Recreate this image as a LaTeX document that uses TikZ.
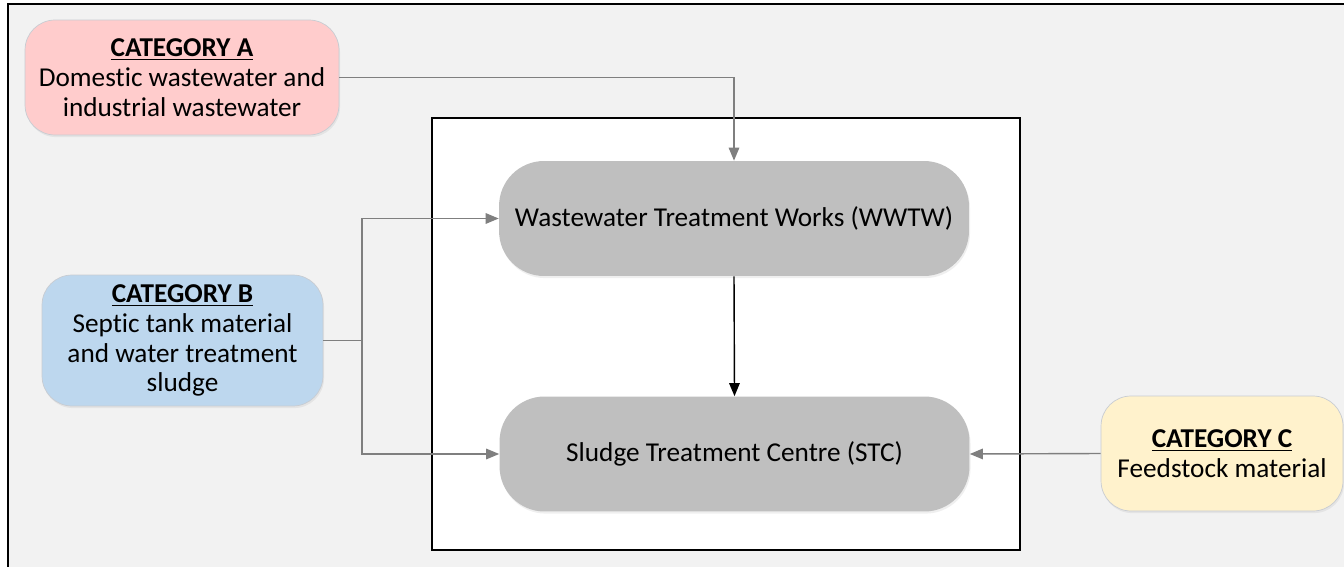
\documentclass[tikz,border=0pt]{standalone}
\usepackage{fontspec}
\setmainfont[Ligatures=NoCommon]{Carlito}
\usepackage{tikz}
\usetikzlibrary{arrows.meta}
\usetikzlibrary{shadows}
\definecolor{bgGray}{HTML}{F2F2F2}
\definecolor{catA}{HTML}{FFCCCC}
\definecolor{catB}{HTML}{BDD7EE}
\definecolor{catC}{HTML}{FFF2CC}
\definecolor{plant}{HTML}{BFBFBF}
\definecolor{rim}{HTML}{C8CCD2}
\definecolor{wire}{HTML}{7F7F7F}
\tikzset{
  category/.style={draw=rim, rounded corners=0.6cm, align=center,
    font=\fontsize{15.5}{17}\selectfont, inner sep=0pt,
    drop shadow={opacity=0.12, shadow xshift=0.6pt, shadow yshift=-1.2pt}},
  works/.style={fill=plant, rounded corners=0.9cm, align=center,
    minimum width=9.4cm, minimum height=2.3cm, inner sep=0pt,
    font=\fontsize{15.5}{17}\selectfont,
    drop shadow={opacity=0.12, shadow xshift=0.6pt, shadow yshift=-1.2pt}},
  feed/.style={draw=wire, line width=0.8pt, -{Triangle[length=2.6mm,width=2.1mm]}},
}
\newcommand{\cathead}[1]{\underline{\textbf{CATEGORY #1}}}

\begin{document}
\begin{tikzpicture}[x=0.02cm, y=-0.02cm]
  \useasboundingbox (0, 0) rectangle (1344, 567);
  \begin{scope}
    \clip (0, 0) rectangle (1344, 567);
    \draw[fill=bgGray, line width=1.4pt] (8, 4) rectangle (1360, 590);
    \draw[fill=white, line width=1.2pt] (432, 118) rectangle (1020, 550);
  \end{scope}

  % treatment plants
  \node[works] at (734, 218.5) (wwtw) {Wastewater Treatment Works (WWTW)};
  \node[works] at (734.5, 454) (stc) {Sludge Treatment Centre (STC)};

  % input categories
  \node[category, fill=catA, minimum width=6.28cm, minimum height=2.3cm]
    at (182, 77.5) (catA) {\cathead{A}\\Domestic wastewater and\\industrial wastewater};
  \node[category, fill=catB, minimum width=5.62cm, minimum height=2.62cm]
    at (182.5, 340.5) (catB) {\cathead{B}\\Septic tank material\\and water treatment\\sludge};
  \node[category, fill=catC, minimum width=4.84cm, minimum height=2.3cm]
    at (1222, 453.5) (catC) {\cathead{C}\\Feedstock material};

  \coordinate (split) at (362, 340.5);

  \draw[feed] (catA.east) -| (wwtw.north);
  \draw[draw=wire, line width=0.8pt] (catB.east) -- (split);
  \draw[feed] (split) |- (wwtw.west);
  \draw[feed] (split) |- (stc.west);
  \draw[feed] (catC.west) -- (stc.east);
  \draw[feed, draw=black] (wwtw.south) -- (stc.north);
\end{tikzpicture}
\end{document}
